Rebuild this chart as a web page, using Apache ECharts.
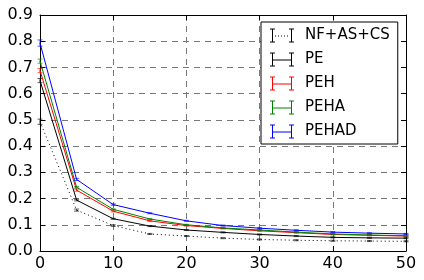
<!DOCTYPE html>
<html>
<head>
<meta charset="utf-8">
<script src="https://cdn.jsdelivr.net/npm/echarts@6/dist/echarts.min.js"></script>
<style>
html,body{margin:0;padding:0;background:#fff;}
#chart{width:424px;height:280px;}
</style>
</head>
<body>
<div id="chart"></div>
<script>
var xValues = [0, 5, 10, 15, 20, 25, 30, 35, 40, 45, 50];
var xTicks = [0, 10, 20, 30, 40, 50];
var yTicks = [0.0, 0.1, 0.2, 0.3, 0.4, 0.5, 0.6, 0.7, 0.8, 0.9];
var seriesNames = ['NF+AS+CS', 'PE', 'PEH', 'PEHA', 'PEHAD'];
var nfAsCs = [0.493, 0.156, 0.097, 0.065, 0.057, 0.049, 0.044, 0.041, 0.039, 0.038, 0.037];
var pe     = [0.650, 0.194, 0.123, 0.095, 0.080, 0.071, 0.063, 0.057, 0.052, 0.050, 0.049];
var peh    = [0.688, 0.232, 0.152, 0.115, 0.097, 0.086, 0.077, 0.070, 0.063, 0.060, 0.057];
var peha   = [0.724, 0.243, 0.159, 0.122, 0.100, 0.088, 0.080, 0.072, 0.065, 0.061, 0.058];
var pehad  = [0.793, 0.273, 0.177, 0.144, 0.115, 0.097, 0.087, 0.079, 0.072, 0.068, 0.065];
var errNfAsCs = [0.010, 0.004, 0.003, 0.002, 0.002, 0.002, 0.002, 0.002, 0.002, 0.002, 0.002];
var errPe     = [0.008, 0.003, 0.002, 0.002, 0.002, 0.002, 0.002, 0.002, 0.002, 0.002, 0.002];
var errPeh    = [0.008, 0.004, 0.003, 0.002, 0.002, 0.002, 0.002, 0.002, 0.002, 0.002, 0.002];
var errPeha   = [0.008, 0.003, 0.002, 0.002, 0.002, 0.002, 0.002, 0.002, 0.002, 0.002, 0.002];
var errPehad  = [0.012, 0.004, 0.003, 0.002, 0.002, 0.002, 0.002, 0.002, 0.002, 0.002, 0.002];

var allY = [nfAsCs, pe, peh, peha, pehad];
var allErr = [errNfAsCs, errPe, errPeh, errPeha, errPehad];
var colors = ['#000000', '#000000', '#ff0000', '#008000', '#0000ff'];
var lineTypes = [[1, 3], 'solid', 'solid', 'solid', 'solid'];

var solidIcon = 'path://M0,0h5v1h-2v12h2v1h-5v-1h2v-12h-2z M3,7h18v1h-18z M19,0h5v1h-2v12h2v1h-5v-1h2v-12h-2z';
var dottedIcon = 'path://M0,0h5v1h-2v12h2v1h-5v-1h2v-12h-2z M5,7h1v1h-1z M8,7h1v1h-1z M11,7h1v1h-1z M14,7h1v1h-1z M17,7h1v1h-1z M19,0h5v1h-2v12h2v1h-5v-1h2v-12h-2z';

var font = 'DejaVu Sans';
var series = [];
for (var i = 0; i < seriesNames.length; i++) {
  var d = xValues.map(function (x, k) { return [x, allY[i][k]]; });
  series.push({
    name: seriesNames[i],
    type: 'line',
    data: d,
    symbol: 'none',
    silent: true,
    animation: false,
    z: 3 + i,
    itemStyle: { color: colors[i] },
    lineStyle: { color: colors[i], width: 1, type: lineTypes[i] }
  });
  (function (idx) {
    series.push({
      name: seriesNames[idx],
      type: 'custom',
      silent: true,
      animation: false,
      z: 3 + idx,
      itemStyle: { color: colors[idx] },
      data: xValues.map(function (x, k) { return [x, allY[idx][k], allErr[idx][k]]; }),
      renderItem: function (params, api) {
        var x = api.value(0), y = api.value(1), e = api.value(2);
        var top = api.coord([x, y + e]);
        var bot = api.coord([x, y - e]);
        var c = colors[idx];
        var st = { stroke: c, lineWidth: 0.8, opacity: 0.8 };
        return {
          type: 'group',
          children: [
            { type: 'line', shape: { x1: top[0], y1: top[1], x2: bot[0], y2: bot[1] }, style: st },
            { type: 'line', shape: { x1: top[0] - 2.5, y1: top[1], x2: top[0] + 2.5, y2: top[1] }, style: st },
            { type: 'line', shape: { x1: bot[0] - 2.5, y1: bot[1], x2: bot[0] + 2.5, y2: bot[1] }, style: st }
          ]
        };
      }
    });
  })(i);
}

var chart = echarts.init(document.getElementById('chart'), null, { renderer: 'canvas' });
var splitStyle = { show: true, lineStyle: { color: '#777', width: 1, type: [6, 5] } };
chart.setOption({
  animation: false,
  backgroundColor: '#fff',
  grid: { left: 40, top: 15, right: 18, bottom: 29, containLabel: false },
  legend: {
    show: true,
    orient: 'vertical',
    left: 261,
    top: 22,
    padding: [6, 8, 5, 9],
    itemWidth: 24,
    itemHeight: 14,
    itemGap: 9,
    backgroundColor: '#fff',
    borderColor: '#000',
    borderWidth: 1,
    borderRadius: 0,
    selectedMode: false,
    itemStyle: { borderWidth: 0 },
    textStyle: { fontFamily: font, fontSize: 15, color: '#000', padding: [0, 0, 0, 6], lineHeight: 14 },
    data: seriesNames.map(function (n, i) {
      return { name: n, icon: i === 0 ? dottedIcon : solidIcon, itemStyle: { color: colors[i], borderWidth: 0 } };
    })
  },
  xAxis: [{
    type: 'value', min: xTicks[0], max: xTicks[xTicks.length - 1], interval: 10,
    axisLine: { show: true, lineStyle: { color: '#000', width: 1 } },
    axisTick: { show: true, inside: true, length: 5, lineStyle: { color: '#000' } },
    axisLabel: { fontFamily: font, fontSize: 16, color: '#000', margin: 5 },
    splitLine: splitStyle
  }, {
    type: 'value', position: 'top', min: xTicks[0], max: xTicks[xTicks.length - 1], interval: 10,
    axisLine: { show: true, onZero: false, lineStyle: { color: '#000', width: 1 } },
    axisTick: { show: true, inside: true, length: 5, lineStyle: { color: '#000' } },
    axisLabel: { show: false },
    splitLine: { show: false }
  }],
  yAxis: [{
    type: 'value', min: yTicks[0], max: yTicks[yTicks.length - 1], interval: 0.1,
    axisLine: { show: true, onZero: false, lineStyle: { color: '#000', width: 1 } },
    axisTick: { show: true, inside: true, length: 5, lineStyle: { color: '#000' } },
    axisLabel: { fontFamily: font, fontSize: 16, color: '#000', margin: 7, formatter: function (v) { return v.toFixed(1); } },
    splitLine: splitStyle
  }, {
    type: 'value', position: 'right', min: yTicks[0], max: yTicks[yTicks.length - 1], interval: 0.1,
    axisLine: { show: true, onZero: false, lineStyle: { color: '#000', width: 1 } },
    axisTick: { show: true, inside: true, length: 5, lineStyle: { color: '#000' } },
    axisLabel: { show: false },
    splitLine: { show: false }
  }],
  series: series
});
</script>
</body>
</html>
